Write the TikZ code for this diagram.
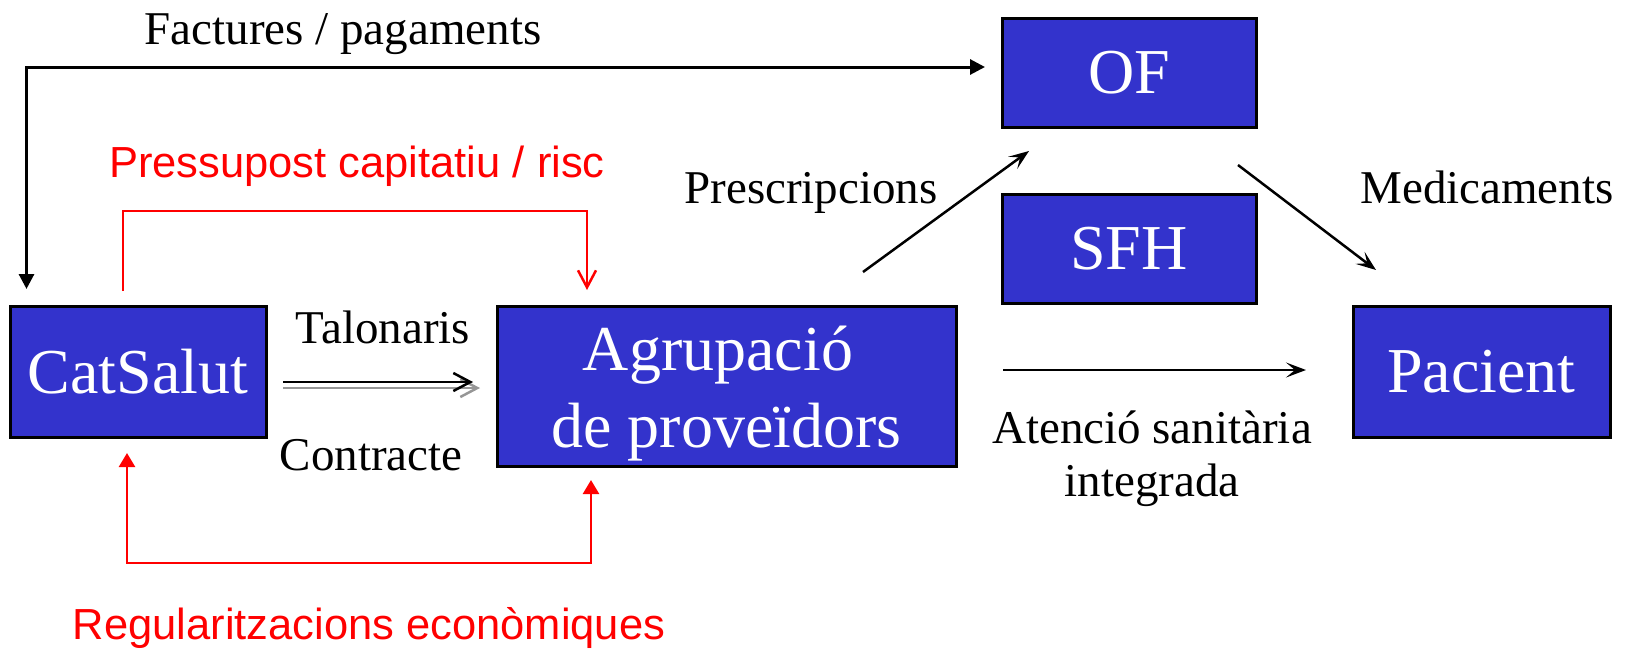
\documentclass[tikz,border=0pt]{standalone}
\usepackage{fontspec}
\setmainfont{Liberation Serif}
\newfontfamily\arialf{Liberation Sans}
\usetikzlibrary{arrows.meta}
\definecolor{boxblue}{RGB}{51,51,204}
\definecolor{redline}{RGB}{255,0,0}
\definecolor{grayline}{RGB}{150,150,150}
\tikzset{
  bluebox/.style={draw=black, line width=3pt, fill=boxblue, text=white, inner sep=0pt,
    font=\fontsize{64}{77}\selectfont, align=center},
  lbl/.style={font=\fontsize{47}{54}\selectfont, inner sep=0pt, anchor=base},
  redlbl/.style={font=\arialf\fontsize{43.5}{50}\selectfont, text=redline, inner sep=0pt, anchor=base},
  blkarr/.style={draw=black, line width=2.5pt, -{Stealth[length=20pt,width=15pt,inset=9pt]}},
  barbarr/.style={line width=2.5pt, -{Straight Barb[length=17pt,width=18pt]}},
}
\begin{document}
\begin{tikzpicture}[x=1pt,y=-1pt]
\useasboundingbox (0,0) rectangle (1631,651);
% boxes
\node[bluebox, minimum width=256pt, minimum height=131pt] (cat) at (138,371.5) {CatSalut};
\node[bluebox, minimum width=459pt, minimum height=160pt] (agr) at (726.5,386) {\rule{0pt}{60pt}Agrupació\hspace*{17pt}\\de proveïdors};
\node[bluebox, minimum width=254pt, minimum height=109pt] (of) at (1129,72.5) {OF};
\node[bluebox, minimum width=254pt, minimum height=109pt] (sfh) at (1129,248.5) {SFH};
\node[bluebox, minimum width=257pt, minimum height=131pt] (pac) at (1481.5,371.5) {Pacient};
% labels
\node[lbl] (lfact) at (343,44) {Factures / pagaments};
\node[redlbl] (lpress) at (357,177) {Pressupost capitatiu / risc};
\node[redlbl] (lreg) at (369,639) {Regularitzacions econòmiques};
\node[lbl] (ltal) at (383,343) {Talonaris};
\node[lbl] (lcon) at (371,470) {Contracte};
\node[lbl] (lpre) at (811,203) {Prescripcions};
\node[lbl] (lmed) at (1487,203) {Medicaments};
\node[lbl] (latn1) at (1152,443) {Atenció sanitària};
\node[lbl] (latn2) at (1152,496) {integrada};
% connector end points
\coordinate (fcat) at (26.5,289);
\coordinate (fof) at (985,67);
\coordinate (pcat) at (123,291);
\coordinate (pagr) at (587,290);
\coordinate (rcat) at (127,453);
\coordinate (ragr) at (591,480);
\coordinate (tcatA) at (283,382);
\coordinate (tagrA) at (473,382);
\coordinate (tcatB) at (283,388);
\coordinate (tagrB) at (480,388);
\coordinate (pragr) at (863,272);
\coordinate (prof) at (1029,151);
\coordinate (meof) at (1238,165);
\coordinate (mepac) at (1376,270);
\coordinate (atagr) at (1003,370);
\coordinate (atpac) at (1306,370);
% connectors
\draw[line width=3pt, {Triangle[length=15pt,width=15pt]}-{Triangle[length=15pt,width=15pt]}] (fcat) |- (fof);
\draw[redline, barbarr] (pcat) -- ++(0,-80) -| (pagr);
\draw[redline, line width=2.5pt, {Triangle[length=14pt,width=16pt]}-{Triangle[length=14pt,width=16pt]}] (rcat) -- ++(0,110) -| (ragr);
\draw[grayline, barbarr] (tcatB) -- (tagrB);
\draw[black, barbarr] (tcatA) -- (tagrA);
\draw[blkarr] (pragr) -- (prof);
\draw[blkarr] (meof) -- (mepac);
\draw[blkarr] (atagr) -- (atpac);
\end{tikzpicture}
\end{document}
